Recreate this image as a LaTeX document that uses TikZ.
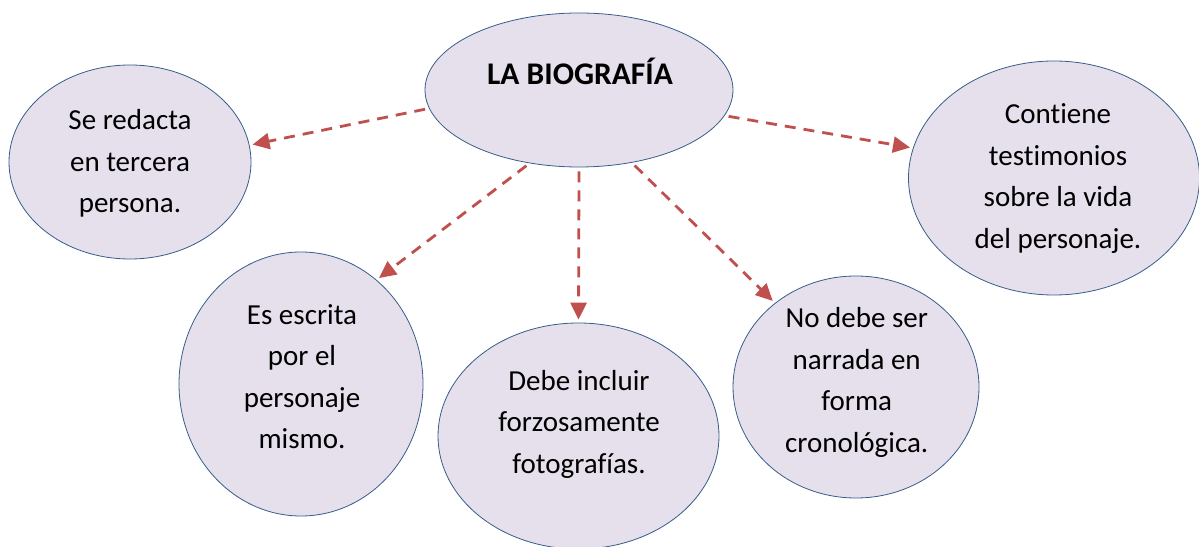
\documentclass[tikz,border=0pt]{standalone}
\usepackage{fontspec}
\setmainfont{Carlito}[Ligatures=NoCommon]
\usetikzlibrary{arrows.meta,shapes.geometric}
\definecolor{bubblefill}{HTML}{E5E0EC}
\definecolor{bubbleline}{HTML}{385D8A}
\definecolor{arrowred}{HTML}{C0504D}
\tikzset{
  bubble/.style={ellipse, draw=bubbleline, line width=0.8pt, fill=bubblefill, inner sep=0pt},
  bubbletext/.style={align=center, inner sep=0pt, font=\fontsize{29}{41.5}\selectfont},
  link/.style={draw=arrowred, line width=2.8pt, dash pattern=on 11pt off 8pt,
    -{Triangle[length=17pt,width=16pt]}, shorten <=4pt, shorten >=3pt}
}
\begin{document}
\begin{tikzpicture}[x=1pt,y=1pt]
\useasboundingbox (0,0) rectangle (1199,546);
% bubbles (y = 546 - pixel y)
\node[bubble, minimum width=308pt, minimum height=154pt] (T) at (579,456) {};
\node[bubble, minimum width=242pt, minimum height=194pt] (L) at (130,384) {};
\node[bubble, minimum width=291pt, minimum height=234pt] (R) at (1054,368) {};
\node[bubble, minimum width=244pt, minimum height=264pt] (BL) at (301,162) {};
\node[bubble, minimum width=281pt, minimum height=226pt] (BM) at (578.5,110) {};
\node[bubble, minimum width=246pt, minimum height=222pt] (BR) at (856,159) {};
% texts
\node[font=\fontsize{31.5}{38}\selectfont\bfseries, anchor=base, inner sep=0pt] (tT) at (580,461) {LA BIOGRAFÍA};
\node[bubbletext] (tL) at (130,382.8) {\strut Se redacta\\ en tercera\\ persona.\strut};
\node[bubbletext] (tR) at (1058,368.5) {\strut Contiene\\ testimonios\\ sobre la vida\\ del personaje.\strut};
\node[bubbletext] (tBL) at (302,167.6) {\strut Es escrita\\ por el\\ personaje\\ mismo.\strut};
\node[bubbletext] (tBM) at (579,122.3) {\strut Debe incluir\\ forzosamente\\ fotografías.\strut};
\node[bubbletext] (tBR) at (856.7,164.3) {\strut No debe ser\\ narrada en\\ forma\\ cronológica.\strut};
% connectors
\draw[link] (T.187) -- (L.8);
\draw[link] (T.-10) -- (R.168);
\draw[link] (T.236) -- (BL.54);
\draw[link] (T.270) -- (BM.90);
\draw[link] (T.306) -- (BR.134);
\end{tikzpicture}
\end{document}
